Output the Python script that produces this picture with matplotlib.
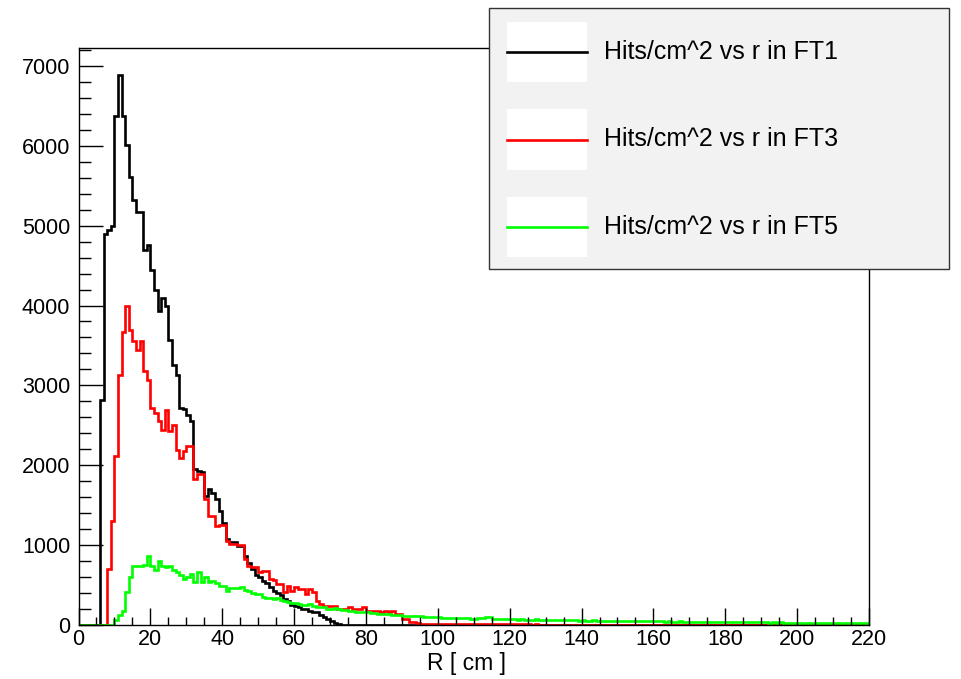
import numpy as np
import matplotlib.pyplot as plt
from matplotlib.patches import Rectangle
from matplotlib.lines import Line2D
from matplotlib.ticker import MultipleLocator

plt.rcParams['font.family'] = ['Liberation Sans', 'DejaVu Sans']

# 1 cm bins from 0 to 220 cm
edges = np.arange(0, 221, 1)

# hits/cm^2 per bin, FT1 starts at r=6 cm
ft1_start = 6
ft1_counts = [2820, 4900, 4940, 5000, 6370, 6880, 6370, 6005, 5610, 5320,
              5170, 5170, 4690, 4760, 4440, 4195, 3925, 4090, 3990, 3570,
              3250, 3130, 2720, 2700, 2630, 2550, 1950, 1930, 1910, 1610,
              1700, 1650, 1575, 1430, 1280, 1075, 1040, 1035, 990, 990,
              865, 780, 700, 620, 595, 555, 520, 470, 430, 400,
              380, 325, 300, 245, 240, 225, 200, 200, 170, 160,
              160, 130, 100, 70, 50, 30, 15]

# FT3 starts at r=8 cm
ft3_start = 8
ft3_counts = [700, 1300, 2110, 3130, 3670, 3995, 3695, 3550, 3445, 3550,
              3175, 3070, 2715, 2655, 2550, 2445, 2695, 2425, 2510, 2195,
              2095, 2175, 2240, 2240, 1825, 1885, 1885, 1575, 1365, 1365,
              1240, 1250, 1250, 1050, 1010, 1010, 1000, 1000, 825, 740,
              730, 730, 665, 680, 680, 575, 560, 510, 510, 410,
              490, 430, 470, 450, 450, 385, 450, 410, 305, 260,
              240, 240, 240, 240, 200, 200, 200, 220, 200, 200,
              200, 220, 180, 170, 170, 170, 165, 170, 165, 170,
              135, 135, 75, 75, 40, 40,
              20, 18, 15, 18, 15, 14, 16, 14, 13, 15,
              12, 13, 12, 11, 12, 10, 11, 10, 10, 11,
              9, 10, 9, 9, 8, 9, 8, 8, 7, 8,
              7, 7, 6, 7, 6, 6, 5, 6, 5, 5,
              5, 4, 5, 4, 4, 4, 3, 4, 3, 3,
              3, 3, 2, 2, 2, 2, 1]

# FT5 starts at r=10 cm
ft5_start = 10
ft5_counts = [60, 130, 180, 408, 600, 740, 740, 740, 750, 870,
              740, 690, 800, 740, 720, 740, 690, 660, 620, 575,
              600, 640, 535, 660, 540, 600, 535, 550, 520, 490,
              490, 430, 460, 460, 460, 480, 440, 420, 400, 390,
              385, 350, 340, 340, 330, 340, 310, 300, 290, 280,
              275, 262, 255, 250, 260, 240, 225, 230, 220, 205,
              200, 210, 195, 190, 185, 180, 175, 165, 160, 158,
              160, 150, 145, 140, 140, 135, 138, 130, 125, 120,
              118, 115, 112, 110, 108, 110, 105, 100, 95, 100,
              95, 90, 92, 88, 85, 90, 86, 82, 85, 80,
              78, 82, 85, 100, 95, 80, 75, 78, 72, 75,
              70, 70, 68, 72, 66, 68, 65, 70, 64, 66,
              62, 65, 60, 63, 62, 58, 60, 57, 60, 55,
              58, 56, 54, 57, 52, 55, 53, 50, 54, 52,
              50, 52, 48, 50, 47, 50, 46, 48, 45, 47,
              44, 46, 44, 42, 45, 43, 41, 44, 40, 42,
              40, 41, 39, 40, 38, 40, 37, 39, 36, 38,
              36, 37, 35, 36, 34, 36, 33, 35, 33, 34,
              32, 33, 31, 33, 30, 32, 30, 31, 29, 31,
              29, 30, 28, 30, 28, 29, 27, 29, 27, 28,
              26, 28, 26, 27, 26, 27, 25, 26, 25, 26]

labels = ["Hits/cm^2 vs r in FT1", "Hits/cm^2 vs r in FT3", "Hits/cm^2 vs r in FT5"]
colors = ["black", "#ff0000", "#00ff00"]


def fill_bins(start, counts):
    h = np.zeros(len(edges) - 1)
    n = min(len(counts), len(h) - start)
    h[start:start + n] = counts[:n]
    return h


hists = [fill_bins(ft1_start, ft1_counts),
         fill_bins(ft3_start, ft3_counts),
         fill_bins(ft5_start, ft5_counts)]

W, H = 962, 679
fig = plt.figure(figsize=(W / 100, H / 100), dpi=100)
x0, x1, y0, y1 = 78.5, 869, 48, 625
ax = fig.add_axes([x0 / W, 1 - y1 / H, (x1 - x0) / W, (y1 - y0) / H])

for h, c in zip(hists, colors):
    ax.stairs(h, edges, color=c, lw=1.9)

ax.set_xlim(0, 220)
ax.set_ylim(0, 1.05 * max(ft1_counts))

ax.xaxis.set_major_locator(MultipleLocator(20))
ax.xaxis.set_minor_locator(MultipleLocator(5))
ax.yaxis.set_major_locator(MultipleLocator(1000))
ax.yaxis.set_minor_locator(MultipleLocator(200))
ax.tick_params(axis='y', which='major', direction='in', length=17, width=1, pad=6, labelsize=15.5)
ax.tick_params(axis='y', which='minor', direction='in', length=8.5, width=1)
ax.tick_params(axis='x', which='major', direction='in', length=12, width=1, pad=3, labelsize=15.5)
ax.tick_params(axis='x', which='minor', direction='in', length=6, width=1)
for s in ax.spines.values():
    s.set_linewidth(1)

ax.set_xlabel("R [ cm ]", fontsize=16.5)
ax.xaxis.set_label_coords((467 - x0) / (x1 - x0), -(652 - y1) / (y1 - y0))

# legend box drawn in figure pixels
def fx(px):
    return px / W


def fy(py):
    return 1 - py / H


fig.patches.append(Rectangle((fx(489), fy(269)), (949 - 489) / W, (269 - 8) / H,
                             transform=fig.transFigure, facecolor='#f2f2f2',
                             edgecolor='#333333', lw=1, zorder=5))
for i, (lab, c) in enumerate(zip(labels, colors)):
    yc = 52 + i * 87.5
    fig.patches.append(Rectangle((fx(507), fy(yc + 30)), 80 / W, 60 / H,
                                 transform=fig.transFigure, facecolor='white',
                                 edgecolor='none', zorder=6))
    fig.lines.append(Line2D([fx(507), fx(587)], [fy(yc), fy(yc)],
                            transform=fig.transFigure, color=c, lw=1.9, zorder=7))
    fig.text(fx(604), fy(yc), lab, fontsize=18, va='center', ha='left', zorder=8)

fig.savefig("out.png", dpi=100)
